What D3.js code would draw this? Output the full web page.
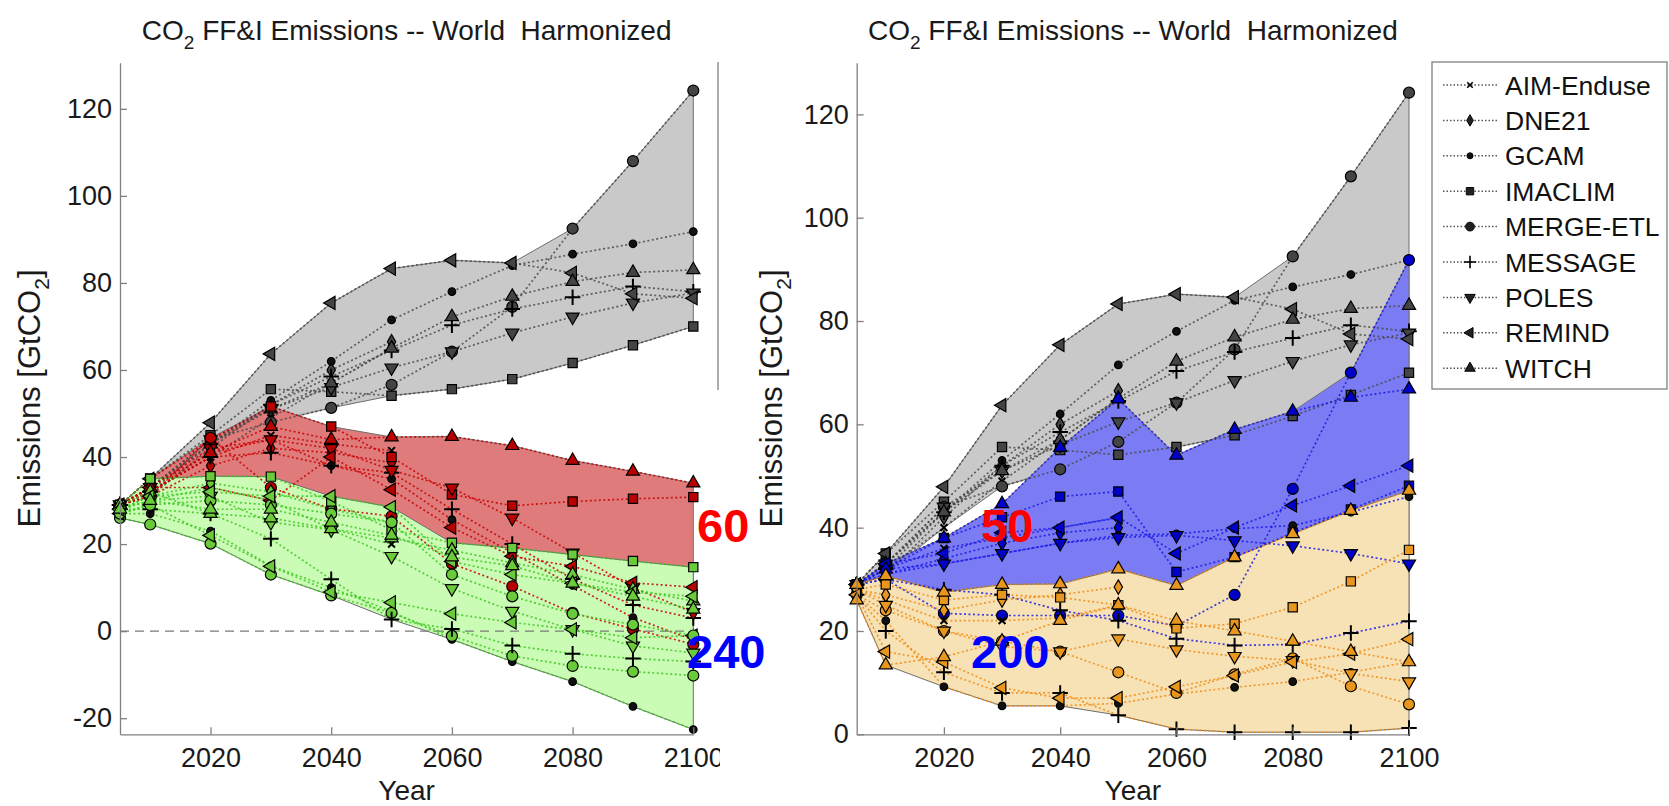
<!DOCTYPE html>
<html>
<head>
<meta charset="utf-8">
<script src="https://cdn.jsdelivr.net/npm/d3@7"></script>
<style>
body { margin: 0; background: #fff; }
svg { font-family: "Liberation Sans", Arial, sans-serif; }
</style>
</head>
<body>
<svg id="chart" width="1669" height="806"></svg>
<script>
var years = [2005, 2010, 2020, 2030, 2040, 2050, 2060, 2070, 2080, 2090, 2100];
var models = ["AIM-Enduse", "DNE21", "GCAM", "IMACLIM", "MERGE-ETL", "MESSAGE", "POLES", "REMIND", "WITCH"];
var leftTicksY = [-20, 0, 20, 40, 60, 80, 100, 120];
var rightTicksY = [0, 20, 40, 60, 80, 100, 120];
var ticksX = [2020, 2040, 2060, 2080, 2100];

// each run: [model index, values per year] (null = not reported)
var baseline = [
    [0, [29, 32, 40, 49, 57, 65, null, null, null, null, null]],
    [1, [29, 31, 42, 52, 60, 66.5, null, null, null, null, null]],
    [2, [29, 33, 43, 53, 62, 71.5, 78, 84, 86.6, 89, 91.8]],
    [3, [29, 35, 45, 55.6, 55, 54.1, 55.6, 57.9, 61.6, 65.7, 70]],
    [4, [29, 33, 44, 48, 51.3, 56.6, 64.2, 74.5, 92.5, 108, 124.2]],
    [5, [29, 32, 43, 52, 58.5, 64.5, 70.3, 74, 76.7, 79.2, 78]],
    [6, [29, 33, 44, 51, 56, 60.5, 64.2, 68.5, 72.2, 75.4, 77.7]],
    [7, [29, 35, 47.9, 63.7, 75.4, 83.3, 85.2, 84.6, 82.3, 77.5, 76.5]],
    [8, [29, 33, 43, 51, 57, 65, 72.2, 76.9, 80.3, 82.4, 83]]
];

var left60 = [
    [0, [29, 32, 40, 45, 43, 41.5, null, null, null, null, null]],
    [1, [29, 31, 38, 42, 41, 38.7, null, null, null, null, null]],
    [2, [29, 32, 41, 44, 38, 35, 25.6, 18, 10.5, 3.1, -2]],
    [3, [29, 35, 44, 51.6, 47, 40, 31.4, 28.8, 29.8, 30.4, 30.8]],
    [4, [29, 31, 44.4, 33, 28.1, 26.4, 15.5, 10.3, 4.2, 0.5, -3]],
    [5, [29, 32, 40, 41, 38, 36.4, 28, 20, 12, 6, 3]],
    [6, [29, 33, 42, 44, 42, 37, 32.9, 26, 18, 10, 4.3]],
    [7, [29, 33, 33, 30, 40, 32.5, 23.8, 17.2, 14.9, 11.1, 10.1]],
    [8, [29, 33, 41, 47, 44, 44.6, 44.7, 42.6, 39.2, 36.7, 34]]
];

var left240 = [
    [0, [28, 30, 33, 30, 23.5, 20, null, null, null, null, null]],
    [1, [28, 31, 34, 32, 28, 25, null, null, null, null, null]],
    [2, [27, 27, 23, 15, 10, 4.5, -1.9, -7, -11.6, -17.3, -22.6]],
    [3, [29, 35, 35.6, 35.5, 29.8, 23.3, 20.3, 19.1, 17.6, 16.1, 14.7]],
    [4, [26, 24.5, 20.1, 13, 8.2, 4.2, -1.1, -5.7, -8, -9.3, -10.2]],
    [5, [28, 28, 27, 21.2, 11.9, 2.7, 0.5, -3.3, -5.2, -6.3, -7]],
    [6, [28, 30, 31, 25, 23.3, 17.2, 9.8, 4.6, 0.4, -3.4, -5]],
    [7, [27, 29, 22, 14.9, 9, 6.6, 4, 2, 0.4, -1.5, -1]],
    [8, [29, 32, 27, 26, 23.5, 21.4, 18.6, 15.7, 13, 9.6, 6.9]],
    [4, [27, 29, 30, 29, 27, 25, 13, 8, 4, 1.5, -1]],
    [7, [28, 31, 32, 31, 31, 28.5, 16, 13, 11, 9, 8]],
    [8, [28, 30, 28, 28, 25, 22, 17, 15, 11, 8, 5]]
];

var right50 = [
    [0, [29, 32, 36, 38, 40, 41.9, null, null, null, null, null]],
    [1, [29, 31, 34, 37, 39, 40, null, null, null, null, null]],
    [2, [29, 31, 33, 35, 37, 38.5, 38.8, 39.8, 40.4, 43, 46]],
    [3, [29, 33, 38, 42, 46, 47, 31.4, 34.3, 39, 43.5, 48.1]],
    [4, [29, 30, 23.4, 23, 23, 23, 21, 27, 47.5, 70, 91.8]],
    [5, [29, 30, 28, 27, 24, 22, 18.5, 17.2, 17.4, 19.6, 21.9]],
    [6, [29, 32, 33, 35, 37, 38.1, 38.5, 37.5, 36.5, 35, 33]],
    [7, [29, 33, 35, 39, 40, 42, 35, 40, 44.3, 48.1, 52]],
    [8, [29, 32, 38, 44.6, 55.5, 64.9, 54, 59, 62.5, 65.2, 66.8]]
];

var right200 = [
    [0, [28, 26, 22, 22, 22.5, 25, null, null, null, null, null]],
    [1, [28, 27, 24, 26, 27, 28.5, null, null, null, null, null]],
    [2, [27, 22, 9.2, 5.5, 5.5, 6, 7.8, 9.1, 10.2, 12, 14]],
    [3, [28, 29, 26, 27, 26.5, 25, 20.5, 21.4, 24.6, 29.6, 35.7]],
    [4, [27, 24, 20, 18, 16, 12, 8, 11.6, 14.7, 9.3, 5.8]],
    [5, [27, 20, 12, 8, 8, 3.7, 1, 0.4, 0.4, 0.4, 1.2]],
    [6, [28, 25, 20, 17, 16, 18.5, 16.4, 15.1, 14.3, 11.8, 10.2]],
    [7, [27, 16, 14, 9, 7, 7, 9.2, 11.4, 14, 15.6, 18.4]],
    [8, [29, 30.7, 27.5, 29, 29.1, 32, 28.8, 34.3, 38.8, 43.3, 47.2]],
    [8, [26, 13.4, 15, 18, 22, 25, 22, 20, 18, 16, 14]]
];

var styles = {
    grey:   {fill: "#c9c9c9", line: "#4a4a4a", face: "#444444"},
    red:    {fill: "#e07b7b", line: "#c80000", face: "#b80000"},
    green:  {fill: "#cbfcb6", line: "#3cc81e", face: "#6acb3a"},
    blue:   {fill: "#7b7bf4", line: "#1a1ae6", face: "#0000c8"},
    orange: {fill: "#f7e2b6", line: "#f08c14", face: "#e8961e"}
};

var svg = d3.select("#chart");
var defs = svg.append("defs");

// marker for a model index
function marker(sel, m, face) {
    var sym = d3.symbol(), rot = 0, strokeOnly = false;
    if (m == 0) { sym.type(d3.symbolTimes).size(32); strokeOnly = true; }
    else if (m == 1) sym.type(d3.symbolDiamond).size(60);
    else if (m == 2) { sym.type(d3.symbolCircle).size(45); face = "#111"; }
    else if (m == 3) sym.type(d3.symbolSquare).size(85);
    else if (m == 4) sym.type(d3.symbolCircle).size(95);
    else if (m == 5) { sym.type(d3.symbolPlus).size(80); strokeOnly = true; }
    else if (m == 6) { sym.type(d3.symbolTriangle).size(75); rot = 180; }
    else if (m == 7) { sym.type(d3.symbolTriangle).size(75); rot = -90; }
    else { sym.type(d3.symbolTriangle).size(75); }
    sel.append("path")
        .attr("d", sym())
        .attr("transform", "rotate(" + rot + ")")
        .attr("fill", strokeOnly ? "none" : face)
        .attr("stroke", "#000")
        .attr("stroke-width", strokeOnly ? 2 : 1.2);
}

function drawPanel(opt) {
    var g = svg.append("g");
    if (opt.clip) {
        defs.append("clipPath").attr("id", opt.clip)
            .append("rect").attr("x", 0).attr("y", 0).attr("width", opt.clipW).attr("height", 806);
        g.attr("clip-path", "url(#" + opt.clip + ")");
    }
    var x = d3.scaleLinear().domain([2005, 2100]).range(opt.xr);
    var y = d3.scaleLinear().domain(opt.yd).range([734.3, 62.7]);

    // envelopes
    opt.groups.forEach(function(gr) {
        var env = years.map(function(yr, i) {
            var v = gr.runs.map(function(r) { return r[1][i]; }).filter(function(d) { return d != null; });
            return {yr: yr, lo: d3.min(v), hi: d3.max(v)};
        });
        g.append("path")
            .datum(env)
            .attr("d", d3.area().x(function(d) { return x(d.yr); }).y0(function(d) { return y(d.lo); }).y1(function(d) { return y(d.hi); }))
            .attr("fill", gr.style.fill)
            .attr("stroke", "#6e6e6e")
            .attr("stroke-width", 1);
    });

    if (opt.zero) {
        g.append("line")
            .attr("x1", x(2005)).attr("x2", x(2100))
            .attr("y1", y(0)).attr("y2", y(0))
            .attr("stroke", "#7a7a7a").attr("stroke-width", 1.3)
            .attr("stroke-dasharray", "9,6");
    }

    // run lines
    var line = d3.line()
        .defined(function(d) { return d.v != null; })
        .x(function(d) { return x(d.yr); })
        .y(function(d) { return y(d.v); });
    opt.groups.forEach(function(gr) {
        g.append("g").selectAll("path")
            .data(gr.runs)
            .enter()
            .append("path")
            .attr("d", function(r) { return line(years.map(function(yr, i) { return {yr: yr, v: r[1][i]}; })); })
            .attr("fill", "none")
            .attr("stroke", gr.style.line)
            .attr("stroke-width", 1.7)
            .attr("stroke-dasharray", "2,2.5")
            .attr("opacity", 0.85);
    });

    // markers
    opt.groups.forEach(function(gr) {
        gr.runs.forEach(function(r) {
            years.forEach(function(yr, i) {
                if (r[1][i] == null) return;
                var mg = g.append("g").attr("transform", "translate(" + x(yr) + "," + y(r[1][i]) + ")");
                marker(mg, r[0], gr.style.face);
            });
        });
    });

    // axes
    var ax = g.append("g")
        .attr("transform", "translate(0,734.3)")
        .call(d3.axisBottom(x).tickValues(ticksX).tickFormat(function(d) { return String(d); }).tickSize(-7).tickSizeOuter(0).tickPadding(14));
    var ay = g.append("g")
        .attr("transform", "translate(" + opt.xr[0] + ",0)")
        .call(d3.axisLeft(y).tickValues(opt.ticksY).tickFormat(function(d) { return String(d); }).tickSize(-7).tickSizeOuter(0).tickPadding(8));
    [ax, ay].forEach(function(a) {
        a.selectAll("path, line").attr("stroke", "#808080").attr("stroke-width", 1.3);
        a.selectAll("text").attr("fill", "#1a1a1a").attr("font-size", 27).attr("font-family", "Liberation Sans, Arial, sans-serif");
    });

    if (opt.sideLine) {
        g.append("line").attr("x1", 718).attr("x2", 718).attr("y1", 62).attr("y2", 390)
            .attr("stroke", "#808080").attr("stroke-width", 1.3);
    }

    var cx = (opt.xr[0] + opt.xr[1]) / 2;
    var t = g.append("text").attr("x", cx).attr("y", 40).attr("text-anchor", "middle")
        .attr("font-size", 28).attr("fill", "#1a1a1a").style("white-space", "pre");
    t.append("tspan").text("CO");
    t.append("tspan").attr("font-size", 19).attr("dy", 9).text("2");
    t.append("tspan").attr("dy", -9).text(" FF&I Emissions -- World  Harmonized");

    g.append("text").attr("x", cx).attr("y", 800).attr("text-anchor", "middle")
        .attr("font-size", 28).attr("fill", "#1a1a1a").text("Year");

    var yl = g.append("text")
        .attr("transform", "translate(" + opt.ylx + ",398.5) rotate(-90)")
        .attr("text-anchor", "middle").attr("font-size", 31).attr("fill", "#1a1a1a");
    yl.append("tspan").text("Emissions [GtCO");
    yl.append("tspan").attr("font-size", 21).attr("dy", 9).text("2");
    yl.append("tspan").attr("dy", -9).text("]");
}

drawPanel({
    clip: "clipLeft", clipW: 720,
    xr: [120, 693.3], yd: [-23.7, 130.6], ticksY: leftTicksY, zero: true, sideLine: true, ylx: 40,
    groups: [
        {runs: baseline, style: styles.grey},
        {runs: left60, style: styles.red},
        {runs: left240, style: styles.green}
    ]
});

drawPanel({
    xr: [856.7, 1409], yd: [0, 130], ticksY: rightTicksY, ylx: 782,
    groups: [
        {runs: baseline, style: styles.grey},
        {runs: right50, style: styles.blue},
        {runs: right200, style: styles.orange}
    ]
});

// legend
var lg = svg.append("g");
lg.append("rect").attr("x", 1432).attr("y", 62).attr("width", 235).attr("height", 327)
    .attr("fill", "#fff").attr("stroke", "#808080").attr("stroke-width", 1.3);
models.forEach(function(m, i) {
    var cy = 85 + i * 35.4;
    lg.append("line").attr("x1", 1443).attr("x2", 1497).attr("y1", cy).attr("y2", cy)
        .attr("stroke", "#555").attr("stroke-width", 1.5).attr("stroke-dasharray", "1.5,2");
    var mg = lg.append("g").attr("transform", "translate(1470," + cy + ") scale(0.8)");
    marker(mg, i, "#222");
    lg.append("text").attr("x", 1505).attr("y", cy + 9.5).attr("font-size", 26.5).attr("fill", "#111").text(m);
});

// scenario counts
var counts = [
    {t: "60", x: 697, y: 542, c: "#ff0000"},
    {t: "240", x: 687, y: 668, c: "#0000ff"},
    {t: "50", x: 981, y: 542, c: "#ff0000"},
    {t: "200", x: 971, y: 668, c: "#0000ff"}
];
svg.selectAll("text.count").data(counts).enter().append("text")
    .attr("class", "count")
    .attr("x", function(d) { return d.x; })
    .attr("y", function(d) { return d.y; })
    .attr("font-size", 47).attr("font-weight", "bold").attr("fill", function(d) { return d.c; })
    .text(function(d) { return d.t; });
</script>
</body>
</html>
